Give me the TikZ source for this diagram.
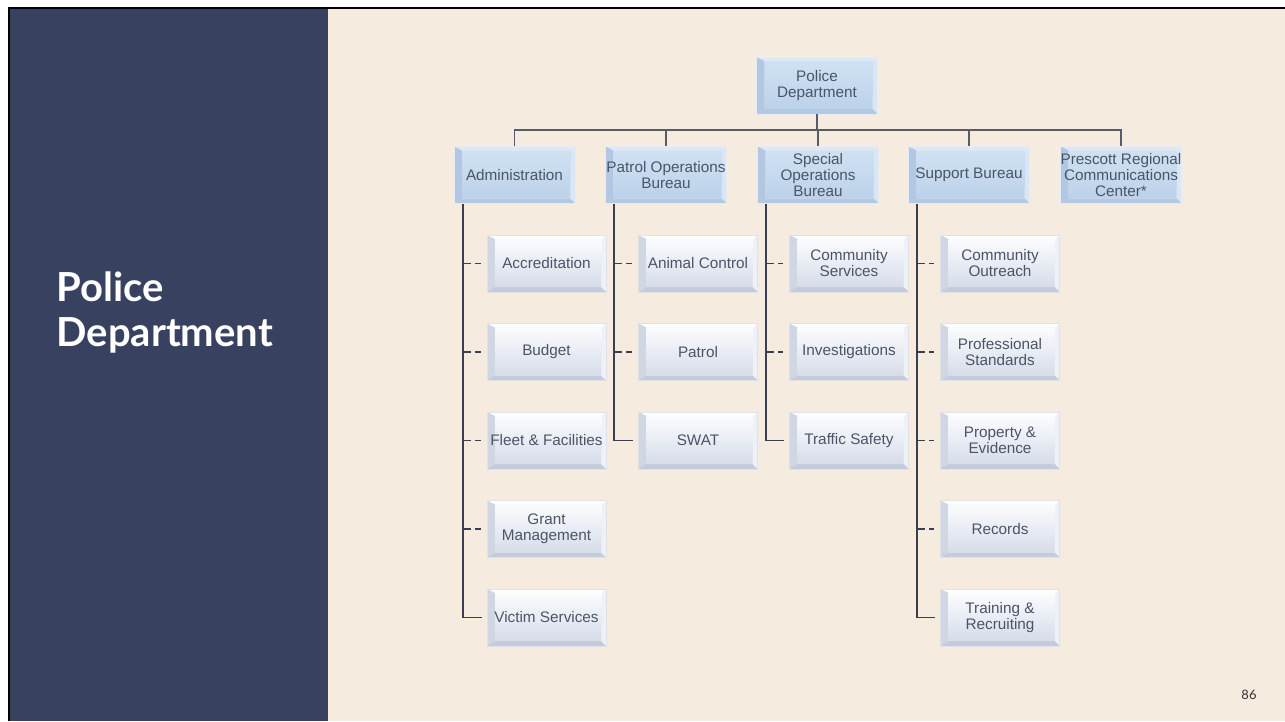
\documentclass[tikz,border=0pt]{standalone}
\usepackage{fontspec}
\setmainfont{Liberation Sans}
\newfontfamily\titlefont{Lato}
\usetikzlibrary{calc}

\definecolor{slidebg}{HTML}{F5EBDF}
\definecolor{panel}{HTML}{384260}
\definecolor{boxtext}{HTML}{4B5567}
\definecolor{linkc}{HTML}{3A3F50}
\definecolor{busc}{HTML}{585C68}
% head boxes (light blue bevel)
\definecolor{hTop}{HTML}{DDE9F7}
\definecolor{hLeft}{HTML}{B2C8E2}
\definecolor{hRight}{HTML}{D9E6F5}
\definecolor{hBot}{HTML}{B3C8E1}
\definecolor{hFaceA}{HTML}{D0E1F3}
\definecolor{hFaceB}{HTML}{BCD2EA}
\definecolor{hEdge}{HTML}{E3ECF7}
% unit boxes (white-blue bevel)
\definecolor{uTop}{HTML}{FFFFFF}
\definecolor{uLeft}{HTML}{D0D6E2}
\definecolor{uRight}{HTML}{EEF1F7}
\definecolor{uBot}{HTML}{C4CBDA}
\definecolor{uFaceA}{HTML}{FBFCFE}
\definecolor{uFaceB}{HTML}{D6DCE9}
\definecolor{uEdge}{HTML}{DDE2EB}

\newcommand\boxfont{\fontsize{15.3pt}{16pt}\selectfont}

% bevelled face drawn inside a node: top, left, right, bottom, face top, face bottom
\newcommand\bevel[6]{%
  \coordinate (bvNW) at (path picture bounding box.north west);
  \coordinate (bvNE) at (path picture bounding box.north east);
  \coordinate (bvSE) at (path picture bounding box.south east);
  \coordinate (bvSW) at (path picture bounding box.south west);
  \coordinate (bvA) at ($(bvNW)+(8,-4)$);
  \coordinate (bvB) at ($(bvNE)+(-4,-4)$);
  \coordinate (bvC) at ($(bvSE)+(-5,5)$);
  \coordinate (bvD) at ($(bvSW)+(8,5)$);
  \fill[#1] (bvNW) -- (bvNE) -- (bvB) -- (bvA) -- cycle;
  \fill[#2] (bvNW) -- (bvA) -- (bvD) -- (bvSW) -- cycle;
  \fill[#3] (bvNE) -- (bvSE) -- (bvC) -- (bvB) -- cycle;
  \fill[#4] (bvSW) -- (bvD) -- (bvC) -- (bvSE) -- cycle;
  \shade[top color=#5, bottom color=#6] (bvA) -- (bvB) -- (bvC) -- (bvD) -- cycle;
}

\tikzset{
  headbox/.style={rectangle, minimum width=121pt, minimum height=57pt, inner sep=0pt,
    align=center, font=\boxfont, text=boxtext, draw=hEdge, line width=0.7pt,
    path picture={\bevel{hTop}{hLeft}{hRight}{hBot}{hFaceA}{hFaceB}}},
  unitbox/.style={rectangle, minimum width=119pt, minimum height=57pt, inner sep=0pt,
    align=center, font=\boxfont, text=boxtext, draw=uEdge, line width=0.7pt,
    path picture={\bevel{uTop}{uLeft}{uRight}{uBot}{uFaceA}{uFaceB}}},
  bus/.style={draw=busc, line width=1.6pt},
  spine/.style={draw=linkc, line width=1.9pt},
  branch/.style={draw=linkc, line width=1.2pt, shorten >=6pt, dash pattern=on 8pt off 4pt},
  lastbranch/.style={draw=linkc, line width=1.3pt, shorten >=5pt},
  titletext/.style={anchor=base west, text=white, font=\titlefont\bfseries\fontsize{40pt}{44pt}\selectfont},
}

\begin{document}
\begin{tikzpicture}[x=1pt, y=1pt]
\useasboundingbox (0,0) rectangle (1285,-721);
\fill[white] (0,0) rectangle (1285,-721);
\fill[slidebg] (9,-8) rectangle (1285,-721);
\fill[panel] (10,-9) rectangle (328,-721);
\draw[black, line width=2.4pt] (9.2,-721) -- (9.2,-8.2) -- (1285,-8.2);

% slide title
\node[titletext] (title1) at (53,-301) {Police};
\node[titletext] (title2) at (53,-346) {Department};

% page number
\node[anchor=base, text=black!80, font=\titlefont\fontsize{13pt}{14pt}\selectfont] (pagenum) at (1249,-699) {86};

% chart: top level
\node[headbox] (top) at (817,-85.5) {Police\\Department};
\coordinate (busy) at (0,-130);

% bureaus
\node[headbox] (adm) at (514.5,-175) {Administration};
\node[headbox] (pob) at (666,-175) {Patrol Operations\\Bureau};
\node[headbox] (sob) at (818,-175) {Special\\Operations\\Bureau};
\node[headbox] (sup) at (969,-175) {Support Bureau};
\node[headbox] (prc) at (1121,-175) {Prescott Regional\\Communications\\Center*};

% units under Administration
\node[unitbox] (a1) at (546.5,-263.5) {Accreditation};
\node[unitbox] (a2) at (546.5,-352) {Budget};
\node[unitbox] (a3) at (546.5,-440.5) {Fleet \& Facilities};
\node[unitbox] (a4) at (546.5,-529) {Grant\\Management};
\node[unitbox] (a5) at (546.5,-617.5) {Victim Services};

% units under Patrol Operations
\node[unitbox] (p1) at (698,-263.5) {Animal Control};
\node[unitbox] (p2) at (698,-352) {Patrol};
\node[unitbox] (p3) at (698,-440.5) {SWAT};

% units under Special Operations
\node[unitbox] (s1) at (849,-263.5) {Community\\Services};
\node[unitbox] (s2) at (849,-352) {Investigations};
\node[unitbox] (s3) at (849,-440.5) {Traffic Safety};

% units under Support Bureau
\node[unitbox] (u1) at (1000,-263.5) {Community\\Outreach};
\node[unitbox] (u2) at (1000,-352) {Professional\\Standards};
\node[unitbox] (u3) at (1000,-440.5) {Property \&\\Evidence};
\node[unitbox] (u4) at (1000,-529) {Records};
\node[unitbox] (u5) at (1000,-617.5) {Training \&\\Recruiting};

% bus from the chief to the bureaus
\draw[bus] (top.south) -- (top.south |- busy);
\draw[bus] (adm.north) -- (adm.north |- busy) -- (prc.north |- busy) -- (prc.north);
\draw[bus] (pob.north) -- (pob.north |- busy);
\draw[bus] (sob.north) -- (sob.north |- busy);
\draw[bus] (sup.north) -- (sup.north |- busy);

% spines down each bureau
\coordinate (admsp) at ($(adm.south west)+(9,0)$);
\coordinate (pobsp) at ($(pob.south west)+(9,0)$);
\coordinate (sobsp) at ($(sob.south west)+(9,0)$);
\coordinate (supsp) at ($(sup.south west)+(9,0)$);

\draw[spine] (admsp) -- (admsp |- a5.west);
\draw[spine] (pobsp) -- (pobsp |- p3.west);
\draw[spine] (sobsp) -- (sobsp |- s3.west);
\draw[spine] (supsp) -- (supsp |- u5.west);

% branches to units
\foreach \u in {a1,a2,a3,a4} \draw[branch] (admsp |- \u.west) -- (\u.west);
\draw[lastbranch] (admsp |- a5.west) -- (a5.west);
\foreach \u in {p1,p2} \draw[branch] (pobsp |- \u.west) -- (\u.west);
\draw[lastbranch] (pobsp |- p3.west) -- (p3.west);
\foreach \u in {s1,s2} \draw[branch] (sobsp |- \u.west) -- (\u.west);
\draw[lastbranch] (sobsp |- s3.west) -- (s3.west);
\foreach \u in {u1,u2,u3,u4} \draw[branch] (supsp |- \u.west) -- (\u.west);
\draw[lastbranch] (supsp |- u5.west) -- (u5.west);
\end{tikzpicture}
\end{document}
